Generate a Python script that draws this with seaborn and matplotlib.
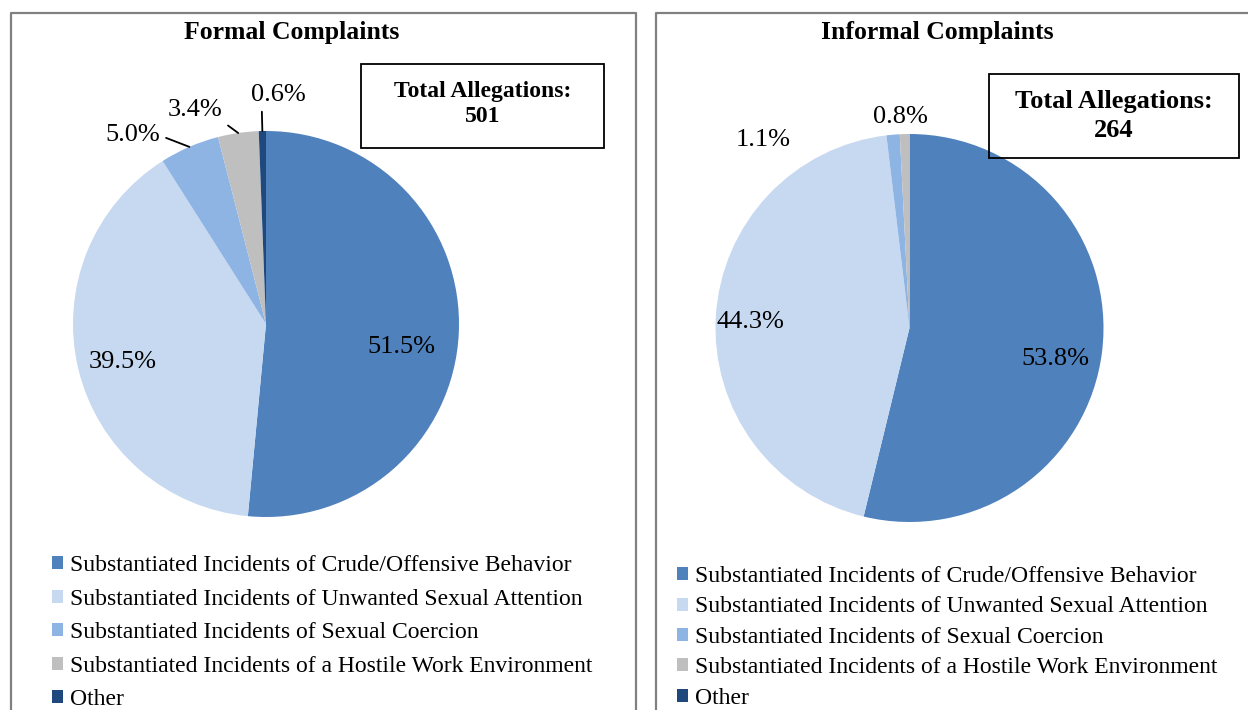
import numpy as np
import matplotlib
matplotlib.use("Agg")
import matplotlib.pyplot as plt
from matplotlib.patches import Rectangle, Patch
import seaborn as sns

# Data
categories = [
    "Substantiated Incidents of Crude/Offensive Behavior",
    "Substantiated Incidents of Unwanted Sexual Attention",
    "Substantiated Incidents of Sexual Coercion",
    "Substantiated Incidents of a Hostile Work Environment",
    "Other",
]
formal_pct = [51.5, 39.5, 5.0, 3.4, 0.6]
informal_pct = [53.8, 44.3, 1.1, 0.8, 0.0]
formal_total = 501
informal_total = 264
panel_titles = ["Formal Complaints", "Informal Complaints"]

colors = sns.color_palette(["#4F81BD", "#C6D9F1", "#8EB4E3", "#BFBFBF", "#1F497D"])

sns.set_theme(style="white")
plt.rcParams["font.family"] = ["Liberation Serif", "DejaVu Serif"]
plt.rcParams["text.color"] = "black"

W, H = 1248, 710
fig = plt.figure(figsize=(W / 100, H / 100), dpi=100)


def fx(x):
    return x / W


def fy(y):
    return 1 - y / H


# panel frames
border = "#808080"
for x0, x1 in [(11, 636), (656, 1300)]:
    fig.add_artist(plt.Line2D([fx(x0), fx(x0), fx(x1), fx(x1)],
                              [fy(720), fy(13), fy(13), fy(720)],
                              transform=fig.transFigure, color=border, lw=1.6))

PCT_FS = 19


def draw_pie(cx, cy, r, values, label_style, leaders):
    ax = fig.add_axes([fx(cx - r), fy(cy + r), 2 * r / W, 2 * r / H])
    wedges, _ = ax.pie(values, colors=colors, startangle=90, counterclock=False,
                       wedgeprops=dict(linewidth=0))
    ax.set_xlim(-1, 1)
    ax.set_ylim(-1, 1)
    ax.set_aspect("equal")
    ax.axis("off")
    for i, (w, v) in enumerate(zip(wedges, values)):
        if v <= 0:
            continue
        mid = np.deg2rad((w.theta1 + w.theta2) / 2)
        rad, dth = label_style[i]
        ang = mid + np.deg2rad(dth)
        tx, ty = rad * np.cos(ang), rad * np.sin(ang)
        txt = f"{v:.1f}%"
        if i in leaders:
            relpos = leaders[i]
            ax.annotate(txt, xy=(np.cos(mid), np.sin(mid)), xytext=(tx, ty),
                        ha="center", va="center", fontsize=PCT_FS, color="black",
                        annotation_clip=False,
                        arrowprops=dict(arrowstyle="-", color="black", lw=1.3,
                                        relpos=relpos, shrinkA=2, shrinkB=0))
        else:
            ax.text(tx, ty, txt, ha="center", va="center", fontsize=PCT_FS,
                    color="black", clip_on=False)
    return ax


draw_pie(266, 324, 193, formal_pct,
         [(0.71, -7), (0.77, 1.3), (1.20, 11.7), (1.17, 10.0), (1.19, -4.1)],
         {2: (1.0, 0.45), 3: (0.95, 0.05), 4: (0.2, 0.05)})
draw_pie(909.5, 328, 194, informal_pct,
         [(0.77, -5), (0.82, 1.2), (1.23, 33), (1.09, 1.0), (1.1, 0)],
         {})

# titles
fig.text(fx(292), fy(33), panel_titles[0], ha="center", va="center",
         fontsize=18.5, fontweight="bold")
fig.text(fx(937), fy(33), panel_titles[1], ha="center", va="center",
         fontsize=18.5, fontweight="bold")

# total boxes
for (x0, y0, x1, y1), total, fs, ty, ls in [((361, 64, 604, 148), formal_total, 17, 104, 1.22),
                                             ((989, 74, 1239, 158), informal_total, 19, 116, 1.3)]:
    fig.add_artist(Rectangle((fx(x0), fy(y1)), (x1 - x0) / W, (y1 - y0) / H,
                             transform=fig.transFigure, fill=False,
                             edgecolor="black", lw=1.3))
    fig.text(fx((x0 + x1) / 2), fy(ty), f"Total Allegations:\n{total}",
             ha="center", va="center", fontsize=fs, fontweight="bold",
             linespacing=ls)

# legends
handles = [Patch(facecolor=c, edgecolor="none") for c in colors]
fig.legend(handles, categories, loc="upper left",
           bbox_to_anchor=(fx(52), fy(555)), frameon=False, fontsize=17,
           handlelength=0.47, handleheight=0.47, handletextpad=0.3,
           labelspacing=0.53, borderpad=0, borderaxespad=0)
fig.legend(handles, categories, loc="upper left",
           bbox_to_anchor=(fx(677), fy(566)), frameon=False, fontsize=17,
           handlelength=0.47, handleheight=0.47, handletextpad=0.3,
           labelspacing=0.4, borderpad=0, borderaxespad=0)

fig.savefig("out.png", dpi=100, facecolor="white")
